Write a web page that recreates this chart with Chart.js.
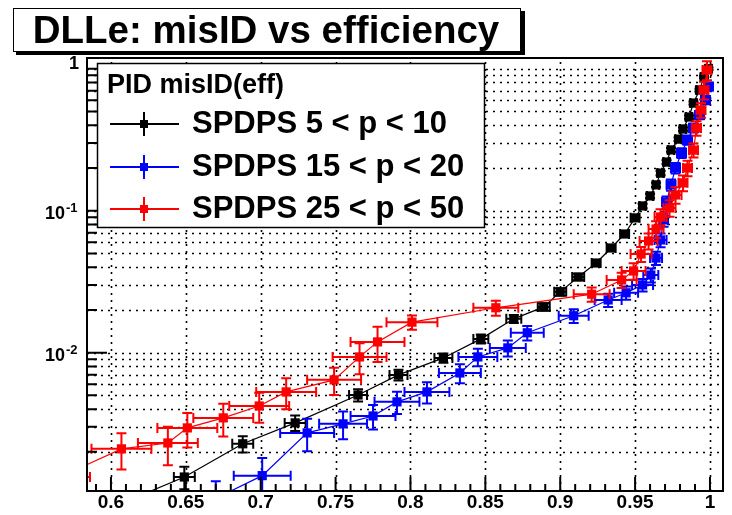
<!DOCTYPE html>
<html>
<head>
<meta charset="utf-8">
<script src="https://cdn.jsdelivr.net/npm/chart.js@4.4.0/dist/chart.umd.min.js"></script>
<style>
  html, body { margin: 0; padding: 0; background: #fff; }
  canvas { display: block; }
</style>
</head>
<body>
<canvas id="misidChart" width="732" height="515"></canvas>
<script>
// misID vs efficiency, three momentum bins
const chartTitle = 'DLLe: misID vs efficiency'
const legendHeader = 'PID misID(eff)'
const seriesLabels = ['SPDPS 5 < p < 10', 'SPDPS 15 < p < 20', 'SPDPS 25 < p < 50']
const seriesColors = ['#000000', '#0000ff', '#ff0000']

const blackX = [0.605, 0.649, 0.688, 0.723, 0.765, 0.792, 0.822, 0.847, 0.869, 0.889, 0.900, 0.912, 0.924, 0.934, 0.943, 0.950, 0.955, 0.960, 0.964, 0.967, 0.971, 0.974, 0.979, 0.982, 0.986, 0.989, 0.993, 0.996, 0.999]
const blackY = [0.00085, 0.00133, 0.00228, 0.0032, 0.00503, 0.00697, 0.00918, 0.0125, 0.0173, 0.0210, 0.0268, 0.0341, 0.0428, 0.0546, 0.0685, 0.089, 0.108, 0.127, 0.152, 0.184, 0.220, 0.268, 0.319, 0.376, 0.457, 0.573, 0.708, 0.875, 1.0]
const blackXErr = [0.007, 0.007, 0.007, 0.007, 0.006, 0.006, 0.006, 0.005, 0.005, 0.004, 0.004, 0.004, 0.003, 0.003, 0.003, 0.003, 0.002, 0.002, 0.002, 0.002, 0.002, 0.002, 0.002, 0.002, 0.002, 0.002, 0.002, 0.002, 0.002]
const blackYErr = [0.00017, 0.00024, 0.0003, 0.0004, 0.0005, 0.0006, 0.0007, 0.0009, 0.0011, 0.0013, 0.0016, 0.0018, 0.0021, 0.0025, 0.003, 0.0035, 0.004, 0.0045, 0.005, 0.006, 0.007, 0.008, 0.009, 0.01, 0.012, 0.014, 0.016, 0.018, 0.02]

const blueX = [0.670, 0.701, 0.731, 0.755, 0.775, 0.791, 0.811, 0.833, 0.845, 0.865, 0.878, 0.909, 0.932, 0.944, 0.955, 0.9605, 0.964, 0.967, 0.969, 0.971, 0.974, 0.977, 0.981, 0.985, 0.989, 0.993, 0.997, 0.999]
const blueY = [0.00094, 0.00136, 0.00272, 0.00315, 0.00358, 0.0045, 0.00529, 0.00719, 0.00933, 0.0108, 0.0138, 0.0182, 0.0235, 0.0264, 0.030, 0.0352, 0.0464, 0.0622, 0.0861, 0.115, 0.152, 0.200, 0.255, 0.315, 0.383, 0.472, 0.603, 0.75]
const blueXErr = [0.018, 0.019, 0.018, 0.016, 0.015, 0.015, 0.015, 0.014, 0.013, 0.012, 0.011, 0.010, 0.009, 0.008, 0.007, 0.005, 0.004, 0.004, 0.003, 0.003, 0.003, 0.003, 0.003, 0.003, 0.003, 0.003, 0.003, 0.003]
const blueYErr = [0.0003, 0.00045, 0.0007, 0.0007, 0.0007, 0.0008, 0.0009, 0.0011, 0.0013, 0.0014, 0.0016, 0.002, 0.0025, 0.0028, 0.003, 0.004, 0.005, 0.007, 0.009, 0.011, 0.014, 0.017, 0.02, 0.024, 0.028, 0.032, 0.04, 0.05]

const redX = [0.566, 0.607, 0.638, 0.651, 0.675, 0.699, 0.717, 0.749, 0.766, 0.778, 0.801, 0.857, 0.921, 0.941, 0.949, 0.954, 0.959, 0.964, 0.967, 0.973, 0.977, 0.982, 0.985, 0.989, 0.991, 0.994, 0.996, 0.998]
const redY = [0.00133, 0.0021, 0.00231, 0.00295, 0.00347, 0.00421, 0.00529, 0.00643, 0.00933, 0.0119, 0.0164, 0.0207, 0.0258, 0.0325, 0.0376, 0.0495, 0.0612, 0.0743, 0.0903, 0.1045, 0.129, 0.157, 0.200, 0.267, 0.382, 0.512, 0.708, 0.98]
const redXErr = [0.02, 0.02, 0.02, 0.02, 0.02, 0.02, 0.02, 0.018, 0.018, 0.018, 0.017, 0.015, 0.012, 0.010, 0.008, 0.007, 0.006, 0.005, 0.004, 0.004, 0.004, 0.003, 0.003, 0.003, 0.003, 0.003, 0.003, 0.003]
const redYErr = [0.0004, 0.0006, 0.0007, 0.0008, 0.0009, 0.001, 0.0013, 0.0014, 0.0023, 0.0033, 0.0019, 0.0025, 0.003, 0.004, 0.005, 0.006, 0.008, 0.01, 0.012, 0.014, 0.017, 0.02, 0.025, 0.03, 0.045, 0.06, 0.1, 0.15]

const xTickValues = [0.6, 0.65, 0.7, 0.75, 0.8, 0.85, 0.9, 0.95, 1]
const xTickLabels = ['0.6', '0.65', '0.7', '0.75', '0.8', '0.85', '0.9', '0.95', '1']
const yTickValues = [0.01, 0.1, 1]
const yTickBase = ['10', '10', '1']
const yTickExp = ['-2', '-1', '']

const xRange = [0.584, 1.0087]
const yRange = [0.00106, 1.19]

const seriesX = [blackX, blueX, redX]
const seriesY = [blackY, blueY, redY]
const seriesXErr = [blackXErr, blueXErr, redXErr]
const seriesYErr = [blackYErr, blueYErr, redYErr]

const FONT = '"Liberation Sans", Arial, sans-serif'

function minorX() {
  const out = []
  for (let i = 59; i <= 100; i++) out.push(i / 100)
  return out
}
function minorY() {
  const out = []
  for (let e = -3; e <= -1; e++) for (let k = 2; k <= 9; k++) out.push(k * Math.pow(10, e))
  return out
}

function clipArea(ctx, a) {
  ctx.beginPath()
  ctx.rect(a.left, a.top, a.right - a.left, a.bottom - a.top)
  ctx.clip()
}

const rootStyle = {
  id: 'rootStyle',
  beforeDatasetsDraw(chart) {
    const ctx = chart.ctx, a = chart.chartArea
    const xs = chart.scales.x, ys = chart.scales.y
    ctx.save()
    clipArea(ctx, a)
    ctx.strokeStyle = '#000'
    ctx.lineWidth = 1.6
    ctx.setLineDash([2, 5])
    xTickValues.forEach(v => {
      const px = Math.round(xs.getPixelForValue(v)) + 0.5
      ctx.beginPath(); ctx.moveTo(px, a.bottom); ctx.lineTo(px, a.top); ctx.stroke()
    })
    yTickValues.concat(minorY()).forEach(v => {
      const py = Math.round(ys.getPixelForValue(v)) + 0.5
      ctx.beginPath(); ctx.moveTo(a.left, py); ctx.lineTo(a.right, py); ctx.stroke()
    })
    ctx.restore()
  },
  beforeDatasetDraw(chart, args) {
    const i = args.index
    const ctx = chart.ctx, a = chart.chartArea
    const xs = chart.scales.x, ys = chart.scales.y
    const X = seriesX[i], Y = seriesY[i], XE = seriesXErr[i], YE = seriesYErr[i]
    ctx.save()
    clipArea(ctx, a)
    ctx.strokeStyle = seriesColors[i]
    ctx.lineWidth = 2
    for (let k = 0; k < X.length; k++) {
      const px = xs.getPixelForValue(X[k]), py = ys.getPixelForValue(Y[k])
      const x0 = xs.getPixelForValue(X[k] - XE[k]), x1 = xs.getPixelForValue(X[k] + XE[k])
      const y0 = ys.getPixelForValue(Y[k] + YE[k])
      const y1 = ys.getPixelForValue(Math.max(Y[k] - YE[k], 1e-6))
      ctx.beginPath()
      ctx.moveTo(x0, py); ctx.lineTo(x1, py)
      ctx.moveTo(x0, py - 5); ctx.lineTo(x0, py + 5)
      ctx.moveTo(x1, py - 5); ctx.lineTo(x1, py + 5)
      ctx.moveTo(px, y0); ctx.lineTo(px, y1)
      ctx.moveTo(px - 5, y0); ctx.lineTo(px + 5, y0)
      ctx.moveTo(px - 5, y1); ctx.lineTo(px + 5, y1)
      ctx.stroke()
    }
    ctx.restore()
  },
  afterDatasetsDraw(chart) {
    const ctx = chart.ctx, a = chart.chartArea
    const xs = chart.scales.x, ys = chart.scales.y
    ctx.save()
    ctx.fillStyle = '#000'
    ctx.strokeStyle = '#000'

    // frame
    ctx.lineWidth = 2
    ctx.strokeRect(a.left, a.top, a.right - a.left, a.bottom - a.top)

    // ticks drawn inward
    ctx.beginPath()
    xTickValues.forEach(v => {
      const px = xs.getPixelForValue(v)
      ctx.moveTo(px, a.bottom); ctx.lineTo(px, a.bottom - 14)
    })
    minorX().forEach(v => {
      const px = xs.getPixelForValue(v)
      ctx.moveTo(px, a.bottom); ctx.lineTo(px, a.bottom - 7)
    })
    yTickValues.forEach(v => {
      const py = ys.getPixelForValue(v)
      ctx.moveTo(a.left, py); ctx.lineTo(a.left + 20, py)
    })
    minorY().forEach(v => {
      const py = ys.getPixelForValue(v)
      ctx.moveTo(a.left, py); ctx.lineTo(a.left + 10, py)
    })
    ctx.stroke()

    // tick labels
    ctx.textBaseline = 'middle'
    ctx.font = 'bold 19px ' + FONT
    ctx.textAlign = 'center'
    xTickValues.forEach((v, k) => {
      ctx.fillText(xTickLabels[k], xs.getPixelForValue(v), a.bottom + 12)
    })
    yTickValues.forEach((v, k) => {
      const py = ys.getPixelForValue(v)
      if (yTickExp[k]) {
        ctx.font = 'bold 18px ' + FONT
        ctx.textAlign = 'right'
        ctx.fillText(yTickBase[k], 65, py + 3)
        ctx.font = 'bold 13px ' + FONT
        ctx.textAlign = 'left'
        ctx.fillText(yTickExp[k], 66, py - 2)
      } else {
        ctx.font = 'bold 18px ' + FONT
        ctx.textAlign = 'right'
        ctx.fillText(yTickBase[k], 79, py - 5)
      }
    })

    // legend box
    ctx.fillStyle = '#fff'
    ctx.fillRect(97, 63, 388, 165)
    ctx.lineWidth = 1.5
    ctx.strokeRect(97.5, 63.5, 387, 164)
    ctx.fillStyle = '#000'
    ctx.textAlign = 'left'
    ctx.font = 'bold 27px ' + FONT
    ctx.fillText(legendHeader, 107, 86)
    const rows = [124, 167, 209]
    seriesLabels.forEach((lab, k) => {
      const ry = rows[k]
      ctx.strokeStyle = seriesColors[k]
      ctx.fillStyle = seriesColors[k]
      ctx.lineWidth = 2
      ctx.beginPath()
      ctx.moveTo(110, ry); ctx.lineTo(179, ry)
      ctx.moveTo(144, ry - 12); ctx.lineTo(144, ry + 12)
      ctx.stroke()
      ctx.fillRect(140, ry - 4, 8, 8)
      ctx.fillStyle = '#000'
      ctx.font = 'bold 31px ' + FONT
      ctx.fillText(lab, 192, ry)
    })

    // title box with shadow
    ctx.fillStyle = '#000'
    ctx.fillRect(16, 11, 509, 44)
    ctx.fillStyle = '#fff'
    ctx.fillRect(13, 8, 508, 44)
    ctx.strokeStyle = '#000'
    ctx.lineWidth = 1
    ctx.strokeRect(13.5, 8.5, 507, 43)
    ctx.fillStyle = '#000'
    ctx.textAlign = 'center'
    ctx.font = 'bold 38.5px ' + FONT
    ctx.fillText(chartTitle, 266, 32)
    ctx.restore()
  }
}

const datasets = seriesLabels.map((lab, k) => ({
  label: lab,
  data: seriesX[k].map((x, j) => ({ x: x, y: seriesY[k][j] })),
  borderColor: seriesColors[k],
  backgroundColor: seriesColors[k],
  borderWidth: 1.2,
  pointStyle: 'rect',
  pointRadius: 6.5,
  pointBorderWidth: 0,
  pointBackgroundColor: seriesColors[k],
  tension: 0,
  fill: false,
  order: 2 - k
}))

new Chart(document.getElementById('misidChart'), {
  type: 'line',
  data: { datasets: datasets },
  options: {
    responsive: false,
    animation: false,
    devicePixelRatio: 1,
    layout: { padding: { left: 87, right: 9, top: 58, bottom: 24 } },
    plugins: {
      legend: { display: false },
      tooltip: { enabled: false },
      title: { display: false }
    },
    scales: {
      x: { type: 'linear', display: false, min: xRange[0], max: xRange[1], bounds: 'data' },
      y: { type: 'logarithmic', display: false, min: yRange[0], max: yRange[1], bounds: 'data' }
    }
  },
  plugins: [rootStyle]
})
</script>
</body>
</html>
